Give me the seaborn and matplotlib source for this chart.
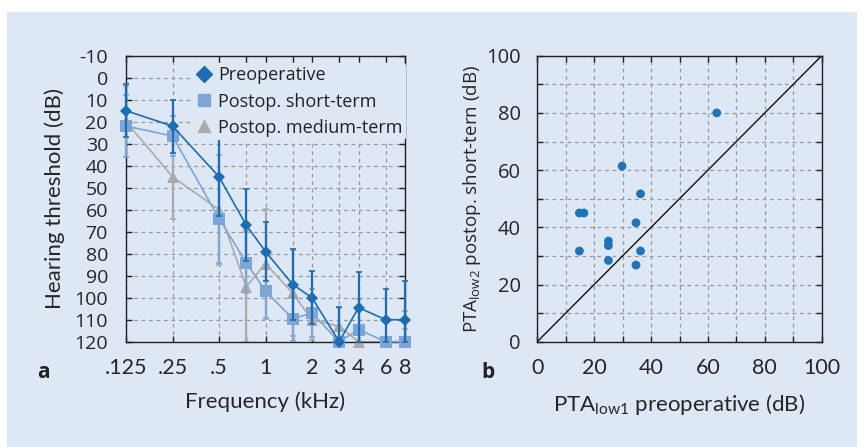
import matplotlib
matplotlib.use("Agg")
import matplotlib.pyplot as plt
import matplotlib.ticker as mticker
from matplotlib.lines import Line2D
from matplotlib.patches import Rectangle
import numpy as np
import pandas as pd
import seaborn as sns

# ── data ──────────────────────────────────────────────────────────────────────
freqs = [0.125, 0.25, 0.5, 0.75, 1, 1.5, 2, 3, 4, 6, 8]
freq_ticks = [0.125, 0.25, 0.5, 1, 2, 3, 4, 6, 8]
freq_labels = [".125", ".25", ".5", "1", "2", "3", "4", "6", "8"]

preop = [15, 22, 45, 67, 79, 94, 100, 120, 104.5, 110, 110]
preop_err = [12, 12, 18, 16.5, 13.5, 16, 12, 16, 16, 14, 17.5]
short = [22, 26.5, 64, 84, 97, 109.5, 107, 120, 114.5, 120, 120]
short_err = [14, 9, 20, 14, 12, 10, 11, 0, 14, 0, 14]
medium = [20, 45, 60, 95, 84.5, 98, 110, 113, 120, 120, 120]
medium_err = [16, 19, 25, 26, 25, 19.5, 9, 8.5, 0, 0, 6]

series_names = ["Preoperative", "Postop. short-term", "Postop. medium-term"]

pta_pre = [14.8, 16.4, 14.8, 25, 25, 25, 29.8, 34.7, 34.7, 36.3, 36.3, 63.1]
pta_post = [45, 45, 31.7, 35.2, 33.6, 28.4, 61.4, 41.6, 26.8, 51.7, 31.7, 80]

# ── style ─────────────────────────────────────────────────────────────────────
BG = "#dde8f4"
C_PRE, C_SHORT, C_MED = "#1c6db3", "#7ea5d6", "#ababab"
NARROW = ["Lato", "DejaVu Sans"]
REG = ["Open Sans", "DejaVu Sans"]
Y_FLOOR = 120

sns.set_theme(style="ticks")
plt.rcParams["font.family"] = REG
plt.rcParams["mathtext.fontset"] = "custom"
plt.rcParams["mathtext.rm"] = "Open Sans"
plt.rcParams["text.color"] = "#222222"

fig = plt.figure(figsize=(8.61, 4.47), dpi=100)
fig.patch.set_facecolor("white")
fig.patches.append(Rectangle((7 / 861, 0), 849 / 861, 435 / 447,
                             transform=fig.transFigure, color=BG, zorder=-10))

ax1 = fig.add_axes([126 / 861, 105.3 / 447, 279 / 861, 286 / 447])
ax2 = fig.add_axes([537.3 / 861, 105.3 / 447, 284.4 / 861, 286 / 447])

grid_kw = dict(color="#999999", linestyle=(0, (3, 3)), linewidth=0.9)

for ax in (ax1, ax2):
    ax.set_facecolor(BG)
    for s in ax.spines.values():
        s.set_color("#222222")
        s.set_linewidth(1.0)
    ax.tick_params(which="both", direction="in", top=True, right=True,
                   length=4, width=1, color="#222222")

# ── panel a: audiogram ────────────────────────────────────────────────────────
ax1.set_xscale("log", base=2)
ax1.set_xlim(0.125, 8)
ax1.set_ylim(120, -10)

specs = [
    (medium, medium_err, C_MED, "^", 8, 2),
    (short, short_err, C_SHORT, "s", 8, 3),
    (preop, preop_err, C_PRE, "D", 6.5, 4),
]
for vals, err, col, mk, ms, z in specs:
    # error bars stop at the bottom of the audiogram (120 dB)
    lower = [min(e, Y_FLOOR - v) for v, e in zip(vals, err)]
    ax1.errorbar(freqs, vals, yerr=[err, lower], fmt="none", ecolor=col,
                 elinewidth=1.6, capsize=2.5, capthick=1.2, zorder=z,
                 clip_on=False)
    sns.lineplot(x=freqs, y=vals, ax=ax1, color=col, marker=mk,
                 markersize=ms, markeredgewidth=0, linewidth=1.2,
                 zorder=z + 0.5, legend=False, clip_on=False)

ax1.set_xticks(freq_ticks)
ax1.set_xticklabels(freq_labels)
ax1.xaxis.set_minor_locator(mticker.FixedLocator([0.75, 1.5]))
ax1.xaxis.set_minor_formatter(mticker.NullFormatter())
ax1.set_yticks(np.arange(-10, 121, 10))
ax1.set_yticklabels([str(v) for v in range(-10, 121, 10)])
ax1.grid(True, which="both", **grid_kw)
ax1.set_axisbelow(True)

ax1.tick_params(axis="x", which="major", pad=12)
ax1.tick_params(axis="y", which="major", pad=13)
for lab in ax1.get_xticklabels():
    lab.set_fontfamily(NARROW)
    lab.set_fontsize(15.5)
for lab in ax1.get_yticklabels():
    lab.set_fontsize(14)

ax1.set_xlabel("Frequency (kHz)", fontsize=16, family=NARROW, labelpad=9.5)
ax1.set_ylabel("Hearing threshold (dB)", fontsize=16, family=NARROW,
               labelpad=7)

handles = [
    Line2D([], [], color=C_PRE, marker="D", linestyle="none", markersize=8.5),
    Line2D([], [], color=C_SHORT, marker="s", linestyle="none", markersize=9),
    Line2D([], [], color=C_MED, marker="^", linestyle="none", markersize=9),
]
leg = ax1.legend(handles, series_names, loc="upper left",
                 bbox_to_anchor=(0.24, 0.975), frameon=True, fontsize=13,
                 handlelength=0.8, handletextpad=0.4, labelspacing=0.45,
                 borderpad=0.2, borderaxespad=0)
leg.get_frame().set_facecolor(BG)
leg.get_frame().set_edgecolor("none")
leg.get_frame().set_alpha(1)
leg.set_zorder(10)

# ── panel b: PTA scatter ──────────────────────────────────────────────────────
df = pd.DataFrame({"pre": pta_pre, "post": pta_post})
ax2.plot([0, 100], [0, 100], color="#111111", linewidth=1.0, zorder=2)
sns.scatterplot(data=df, x="pre", y="post", ax=ax2, color="#1f73b7",
                s=40, edgecolor="none", zorder=3, legend=False)
ax2.set_xlim(0, 100)
ax2.set_ylim(0, 100)
ax2.set_xticks(np.arange(0, 101, 20))
ax2.set_yticks(np.arange(0, 101, 20))
ax2.xaxis.set_minor_locator(mticker.MultipleLocator(10))
ax2.yaxis.set_minor_locator(mticker.MultipleLocator(10))
ax2.grid(True, which="both", **grid_kw)
ax2.set_axisbelow(True)
ax2.tick_params(axis="x", which="major", pad=12)
ax2.tick_params(axis="y", which="major", pad=12)
for lab in ax2.get_xticklabels():
    lab.set_fontfamily(NARROW)
    lab.set_fontsize(15.5)
for lab in ax2.get_yticklabels():
    lab.set_fontsize(14.5)

ax2.set_xlabel(r"PTA$_{\mathregular{low1}}$ preoperative (dB)", fontsize=16,
               family=NARROW, labelpad=9.5)
ax2.set_ylabel(r"PTA$_{\mathregular{low2}}$ postop. short-tern (dB)",
               fontsize=13.5, labelpad=2)

fig.text(43 / 861, 1 - 372 / 447, "a", fontsize=15, fontweight="bold",
         ha="center", va="center")
fig.text(488 / 861, 1 - 372 / 447, "b", fontsize=15, fontweight="bold",
         ha="center", va="center")

fig.savefig("out.png", dpi=100, facecolor=fig.get_facecolor())
